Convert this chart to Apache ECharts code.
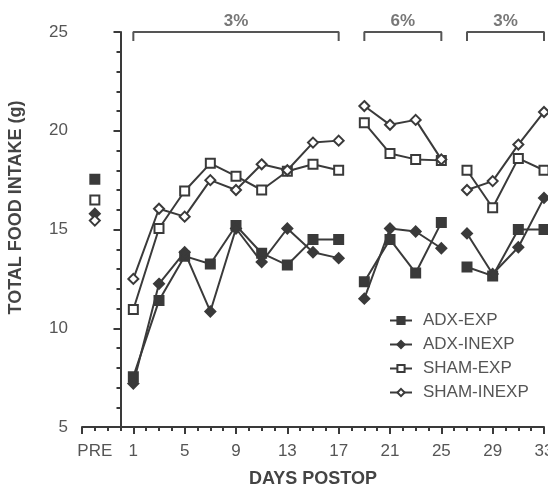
<!DOCTYPE html>
<html lang="en">
<head>
<meta charset="UTF-8">
<title>Food intake</title>
<script src="https://cdn.jsdelivr.net/npm/echarts@6/dist/echarts.min.js"></script>
<style>
  html, body { margin: 0; padding: 0; background: #fff; }
  #main { width: 548px; height: 488px; }
</style>
</head>
<body>
<div id="main"></div>
<script>
// days of each diet block
const days1 = [1, 3, 5, 7, 9, 11, 13, 15, 17];
const days2 = [19, 21, 23, 25];
const days3 = [27, 29, 31, 33];
const preDay = -2;
const preLabel = 'PRE';

const seriesNames = ['ADX-EXP', 'ADX-INEXP', 'SHAM-EXP', 'SHAM-INEXP'];

// pre-op value for each group
const preAdxExp = 17.55;
const preAdxInexp = 15.8;
const preShamExp = 16.5;
const preShamInexp = 15.45;

// postop values, all 3 blocks one after another
const adxExp = [7.55, 11.4, 13.65, 13.25, 15.2, 13.8, 13.2, 14.5, 14.5,
  12.35, 14.5, 12.8, 15.35,
  13.1, 12.65, 15.0, 15.0];
const adxInexp = [7.2, 12.25, 13.85, 10.85, 15.05, 13.35, 15.05, 13.85, 13.55,
  11.5, 15.05, 14.9, 14.05,
  14.8, 12.75, 14.1, 16.6];
const shamExp = [10.95, 15.05, 16.95, 18.35, 17.7, 17.0, 17.95, 18.3, 18.0,
  20.4, 18.85, 18.55, 18.5,
  18.0, 16.1, 18.6, 18.0];
const shamInexp = [12.5, 16.05, 15.65, 17.5, 17.0, 18.3, 18.0, 19.4, 19.5,
  21.25, 20.3, 20.55, 18.55,
  17.0, 17.45, 19.3, 20.95];

// diet brackets on top
const bracketStart = [1, 19, 27];
const bracketEnd = [17, 25, 33];
const bracketLabels = ['3%', '6%', '3%'];

const bracketLevel = 25;
const bracketDrop = 0.45;

const ink = '#3a3a3a';
const textColor = '#555';
const font = '"Liberation Sans", Arial, sans-serif';

function buildData(pre, vals) {
  let data = [[preDay, pre]];
  let k = 0;
  [days1, days2, days3].forEach(seg => {
    data.push([seg[0] - 1, null]); // break the line
    seg.forEach(d => {
      data.push([d, vals[k]]);
      k++;
    });
  });
  return data;
}

function bracketData() {
  let data = [];
  for (let i = 0; i < bracketStart.length; i++) {
    data.push([bracketStart[i], bracketLevel - bracketDrop]);
    data.push([bracketStart[i], bracketLevel]);
    data.push([bracketEnd[i], bracketLevel]);
    data.push([bracketEnd[i], bracketLevel - bracketDrop]);
    data.push([bracketEnd[i] + 1, null]);
  }
  return data;
}

function lineSeries(name, pre, vals, symbol, filled) {
  return {
    name: name,
    type: 'line',
    data: buildData(pre, vals),
    symbol: symbol,
    symbolSize: symbol === 'rect' ? 9 : 10,
    showAllSymbol: true,
    connectNulls: false,
    lineStyle: { color: ink, width: 2 },
    itemStyle: {
      color: filled ? ink : '#fff',
      borderColor: ink,
      borderWidth: 2
    },
    emphasis: { disabled: true },
    animation: false
  };
}

var chartDom = document.getElementById('main');
var myChart = echarts.init(chartDom);
var option = {
  backgroundColor: '#fff',
  textStyle: { fontFamily: font },
  grid: {
    left: 82,
    right: 4,
    top: 32,
    bottom: 61,
    containLabel: false,
    outerBoundsMode: 'none'
  },
  legend: {
    data: seriesNames,
    orient: 'vertical',
    left: 384,
    top: 307,
    itemWidth: 22,
    itemHeight: 9,
    itemGap: 7,
    textStyle: {
      color: textColor,
      fontSize: 17,
      fontFamily: font,
      padding: [0, 0, 0, 6]
    }
  },
  xAxis: [
    {
      type: 'value',
      min: -3,
      max: 33,
      interval: 4,
      position: 'bottom',
      name: 'DAYS POSTOP',
      nameLocation: 'middle',
      nameGap: 43,
      nameTextStyle: { color: '#444', fontSize: 18, fontWeight: 'bold', fontFamily: font },
      axisLine: { onZero: false, lineStyle: { color: ink, width: 2 } },
      axisTick: { length: 7, lineStyle: { color: ink, width: 2 } },
      minorTick: { show: true, splitNumber: 4, length: 4, lineStyle: { color: ink, width: 2 } },
      axisLabel: {
        color: textColor,
        fontSize: 17,
        margin: 16,
        formatter: v => (v < 0 ? '' : String(v))
      },
      splitLine: { show: false }
    },
    {
      type: 'value',
      min: -3,
      max: 33,
      interval: 1,
      position: 'bottom',
      axisLine: { show: false },
      axisTick: { show: false },
      axisLabel: {
        color: textColor,
        fontSize: 17,
        margin: 16,
        formatter: v => (v === preDay ? preLabel : '')
      },
      splitLine: { show: false }
    }
  ],
  yAxis: {
    type: 'value',
    min: 5,
    max: 25,
    interval: 5,
    name: 'TOTAL FOOD INTAKE (g)',
    nameLocation: 'middle',
    nameGap: 57,
    nameTextStyle: {
      color: '#444',
      fontSize: 18,
      fontWeight: 'bold',
      fontFamily: font,
      padding: [0, 0, 0, 44]
    },
    axisLine: { show: true, lineStyle: { color: ink, width: 2 } },
    axisTick: { show: true, length: 7, lineStyle: { color: ink, width: 2 } },
    minorTick: { show: true, splitNumber: 5, length: 4, lineStyle: { color: ink, width: 2 } },
    axisLabel: { color: textColor, fontSize: 17, margin: 14 },
    splitLine: { show: false }
  },
  series: [
    lineSeries(seriesNames[0], preAdxExp, adxExp, 'rect', true),
    lineSeries(seriesNames[1], preAdxInexp, adxInexp, 'diamond', true),
    lineSeries(seriesNames[2], preShamExp, shamExp, 'rect', false),
    lineSeries(seriesNames[3], preShamInexp, shamInexp, 'diamond', false),
    {
      name: 'brackets',
      type: 'line',
      data: bracketData(),
      symbol: 'none',
      clip: false,
      connectNulls: false,
      lineStyle: { color: '#555', width: 2 },
      emphasis: { disabled: true },
      animation: false
    },
    {
      name: 'bracketText',
      type: 'scatter',
      symbolSize: 0,
      clip: false,
      data: bracketStart.map((s, i) => ({
        value: [(s + bracketEnd[i]) / 2, bracketLevel],
        label: { formatter: bracketLabels[i] }
      })),
      label: {
        show: true,
        position: 'top',
        distance: 2,
        color: textColor,
        fontSize: 17,
        fontWeight: 'bold',
        fontFamily: font
      },
      emphasis: { disabled: true },
      animation: false
    }
  ]
};
option && myChart.setOption(option);

window.addEventListener('resize', function() {
  myChart.resize();
});
</script>
</body>
</html>
